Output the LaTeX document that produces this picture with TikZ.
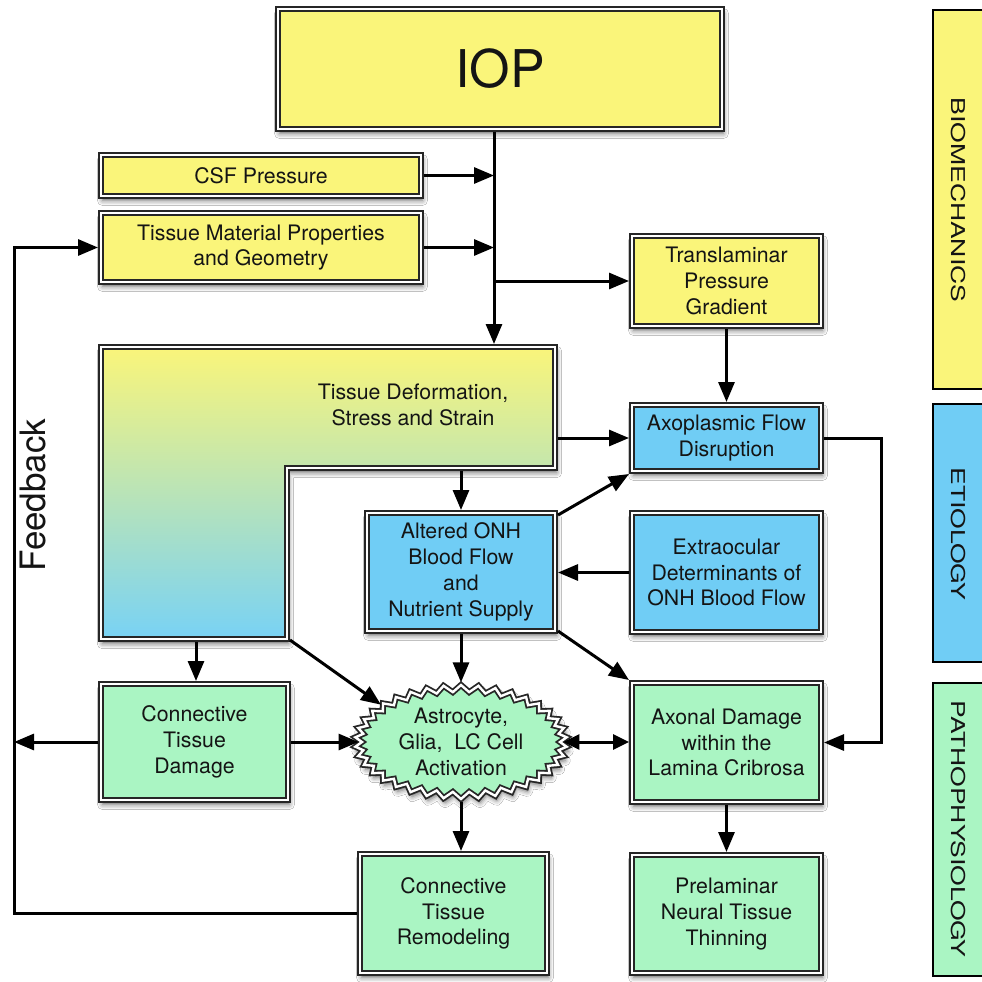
\documentclass[tikz,border=0pt]{standalone}
\usepackage{fontspec}
\setmainfont{TeX Gyre Heros}
\usetikzlibrary{arrows.meta,shapes.symbols,shadows.blur,calc}
\definecolor{yel}{RGB}{250,245,122}
\definecolor{blu}{RGB}{112,205,245}
\definecolor{grn}{RGB}{170,245,195}
\definecolor{lblu}{RGB}{120,210,245}
\definecolor{ink}{RGB}{20,20,20}
\begin{document}
\begin{tikzpicture}[x=1pt,y=-1pt,
  txt/.style={font=\fontsize{21.3}{25.8}\selectfont, text=ink},
  shad/.style={blur shadow={shadow xshift=1.5pt,shadow yshift=-4.5pt,shadow blur radius=5pt,shadow opacity=60}},
  frame/.style={draw=black!85, line width=1.8pt, double=white, double distance=2.4pt},
  box/.style={frame, shad, txt, rectangle, inner sep=0pt, outer sep=3pt, align=center},
  arr/.style={line width=3pt, draw=black, -{Triangle[length=20pt,width=16pt]}},
  darr/.style={line width=3pt, draw=black, {Triangle[length=16pt,width=15pt]}-{Triangle[length=16pt,width=15pt]}},
  sideframe/.style={draw=black, line width=2pt},
  sidelabel/.style={rotate=-90, font=\fontsize{26.5}{30}\selectfont, text=ink, inner sep=0pt},
]
\useasboundingbox (0,0) rectangle (982,982);
\fill[white] (0,0) rectangle (982,982);

% side category boxes
\draw[sideframe, fill=yel] (933,10) rectangle (1000,389);
\draw[sideframe, fill=blu] (933,404) rectangle (1000,662);
\draw[sideframe, fill=grn] (933,683) rectangle (1000,976);
\node[sidelabel] (bio) at (958,200) {\scalebox{1}[0.72]{BIOMECHANICS}};
\node[sidelabel] (eti) at (958,534) {\scalebox{1}[0.72]{ETIOLOGY}};
\node[sidelabel] (pat) at (958,829) {\scalebox{1}[0.72]{PATHOPHYSIOLOGY}};

% L-shaped box
\path[frame, shad, top color=yel, bottom color=lblu]
  (100.8,346.8) -- (555.2,346.8) -- (555.2,468.2) -- (287.2,468.2)
  -- (287.2,639.2) -- (100.8,639.2) -- cycle;
\node[txt, align=center] (tds) at (413,405) {Tissue Deformation,\\Stress and Strain};
\coordinate (ltop) at (494,344);
\coordinate (lright) at (558,438);
\coordinate (lbot) at (461,471);
\coordinate (lbl) at (196,642);
\coordinate (lcorner) at (290,640);
\coordinate (fbx) at (14,0);

% boxes
\node[box, fill=yel, minimum width=444pt, minimum height=120pt, font=\fontsize{52}{60}\selectfont] (iop) at (500,69) {IOP};
\node[box, fill=yel, minimum width=320pt, minimum height=41pt] (csf) at (261,175.5) {CSF Pressure};
\node[box, fill=yel, minimum width=320pt, minimum height=69pt] (tmp) at (261,247.5) {Tissue Material Properties\\and Geometry};
\node[box, fill=yel, minimum width=189pt, minimum height=90pt] (tpg) at (726.5,281) {Translaminar\\Pressure\\Gradient};
\node[box, fill=blu, minimum width=189pt, minimum height=66pt] (afd) at (726.5,438) {Axoplasmic Flow\\Disruption};
\node[box, fill=blu, minimum width=189pt, minimum height=119pt] (ext) at (726.5,572.5) {Extraocular\\Determinants of\\ONH Blood Flow};
\node[box, fill=blu, minimum width=188pt, minimum height=118pt] (onh) at (461,572) {Altered ONH\\Blood Flow\\and\\Nutrient Supply};
\node[box, fill=grn, minimum width=187pt, minimum height=116pt] (ctd) at (194.5,742) {Connective\\Tissue\\Damage};
\node[box, fill=grn, minimum width=189pt, minimum height=119pt] (axd) at (726.5,742.5) {Axonal Damage\\within the\\Lamina Cribrosa};
\node[box, fill=grn, minimum width=187pt, minimum height=119pt] (ctr) at (453.5,913.5) {Connective\\Tissue\\Remodeling};
\node[box, fill=grn, minimum width=189pt, minimum height=118pt] (pnt) at (726.5,914) {Prelaminar\\Neural Tissue\\Thinning};
\node[frame, shad, txt, starburst, starburst points=38, starburst point height=7pt, random starburst=0,
      fill=grn, minimum width=212pt, minimum height=114pt, inner sep=0pt, outer sep=2pt, align=center]
      (sb) at (461,742) {Astrocyte,\\Glia,\ \ LC Cell\\Activation};

\node[rotate=90, font=\fontsize{35}{40}\selectfont, text=ink] (fbk) at (33,495) {Feedback};

% connectors
\draw[arr] (iop.south -| ltop) -- (ltop);
\draw[arr] (csf.east) -- (csf.east -| ltop);
\draw[arr] (tmp.east) -- (tmp.east -| ltop);
\draw[arr] (ltop |- tpg.west) -- (tpg.west);
\draw[arr] (tpg.south) -- (afd.north);
\draw[arr] (lright) -- (lright -| afd.west);
\draw[arr] (lbot) -- (lbot |- onh.north);
\draw[arr] ([yshift=-5pt]onh.north east) -- (afd.south west);
\draw[arr] (ext.west) -- (ext.west -| onh.east);
\draw[arr] (afd.east) -- ++(57,0) |- (axd.east);
\draw[arr] (lbl) -- (lbl |- ctd.north);
\draw[arr] (lcorner) -- (sb.155);
\draw[arr] (onh.south) -- (onh.south |- sb.north);
\draw[arr] ([yshift=3pt]onh.south east) -- (axd.north west);
\draw[arr] (ctd.east) -- (ctd.east -| sb.west);
\draw[arr] (ctd.west) -- (ctd.west -| fbx);
\draw[darr] (sb.east) -- (sb.east -| axd.west);
\draw[arr] (axd.south) -- (pnt.north);
\draw[arr] (sb.south) -- (sb.south |- ctr.north);
\draw[arr] (ctr.west) -| (fbx |- tmp.west) -- (tmp.west);
\end{tikzpicture}
\end{document}
